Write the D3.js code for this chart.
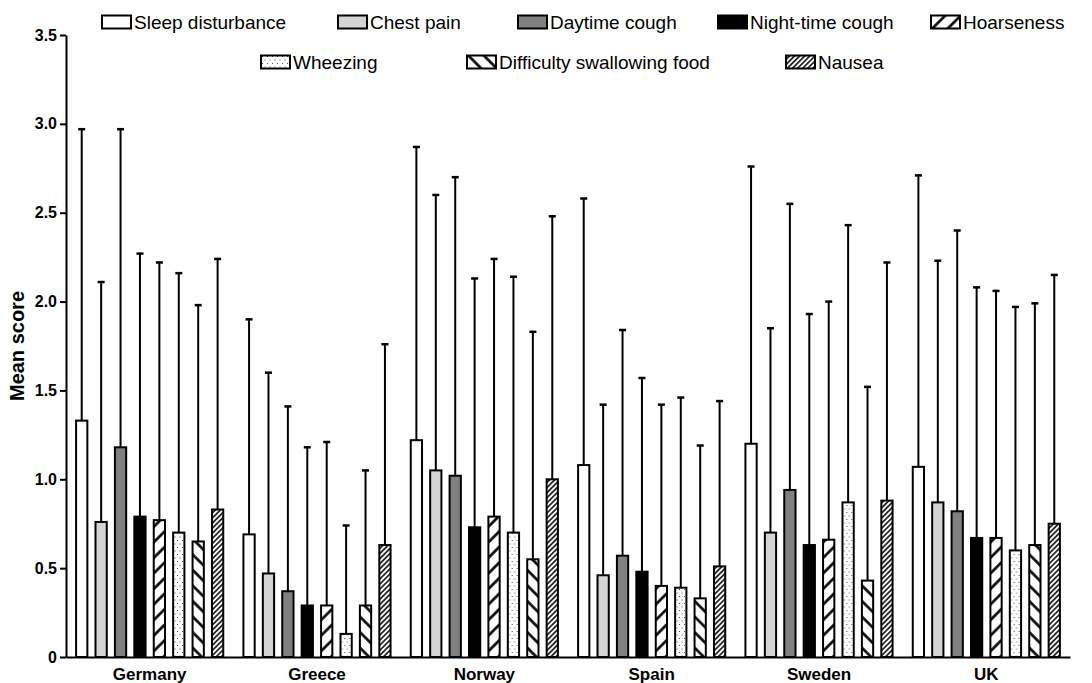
<!DOCTYPE html>
<html>
<head>
<meta charset="utf-8">
<script src="https://cdn.jsdelivr.net/npm/d3@7/dist/d3.min.js"></script>
<style>
  html, body { margin: 0; padding: 0; background: #fff; }
  svg { display: block; font-family: "Liberation Sans", Arial, Helvetica, sans-serif; }
</style>
</head>
<body>
<script>
// Countries along the x axis
const countries = ["Germany", "Greece", "Norway", "Spain", "Sweden", "UK"];

// Symptom series (legend order)
const symptoms = [
  "Sleep disturbance", "Chest pain", "Daytime cough", "Night-time cough",
  "Hoarseness", "Wheezing", "Difficulty swallowing food", "Nausea"
];

// Mean score per country for each symptom
const meanSleep      = [1.33, 0.69, 1.22, 1.08, 1.20, 1.07];
const meanChest      = [0.76, 0.47, 1.05, 0.46, 0.70, 0.87];
const meanDayCough   = [1.18, 0.37, 1.02, 0.57, 0.94, 0.82];
const meanNightCough = [0.79, 0.29, 0.73, 0.48, 0.63, 0.67];
const meanHoarse     = [0.77, 0.29, 0.79, 0.40, 0.66, 0.67];
const meanWheeze     = [0.70, 0.13, 0.70, 0.39, 0.87, 0.60];
const meanSwallow    = [0.65, 0.29, 0.55, 0.33, 0.43, 0.63];
const meanNausea     = [0.83, 0.63, 1.00, 0.51, 0.88, 0.75];

// Standard deviation per country for each symptom
const sdSleep      = [1.64, 1.21, 1.65, 1.50, 1.56, 1.64];
const sdChest      = [1.35, 1.13, 1.55, 0.96, 1.15, 1.36];
const sdDayCough   = [1.79, 1.04, 1.68, 1.27, 1.61, 1.58];
const sdNightCough = [1.48, 0.89, 1.40, 1.09, 1.30, 1.41];
const sdHoarse     = [1.45, 0.92, 1.45, 1.02, 1.34, 1.39];
const sdWheeze     = [1.46, 0.61, 1.44, 1.07, 1.56, 1.37];
const sdSwallow    = [1.33, 0.76, 1.28, 0.86, 1.09, 1.36];
const sdNausea     = [1.41, 1.13, 1.48, 0.93, 1.34, 1.40];

// Y axis tick values
const yTicks = [0, 0.5, 1.0, 1.5, 2.0, 2.5, 3.0, 3.5];

const means = [meanSleep, meanChest, meanDayCough, meanNightCough, meanHoarse, meanWheeze, meanSwallow, meanNausea];
const sds   = [sdSleep, sdChest, sdDayCough, sdNightCough, sdHoarse, sdWheeze, sdSwallow, sdNausea];

// Flattened records for drawing
const records = [];
countries.forEach((c, ci) => {
  symptoms.forEach((s, si) => {
    records.push({ country: c, symptom: s, mean: means[si][ci], sd: sds[si][ci] });
  });
});

const W = 1092, H = 683;
const plot = { left: 66, right: 1070, top: 35, bottom: 657 };

const svg = d3.select("body").append("svg")
  .attr("width", W).attr("height", H);

// ---- fill patterns ----
const defs = svg.append("defs");

function stripes(id, dir, size, width) {
  const p = defs.append("pattern")
    .attr("id", id)
    .attr("patternUnits", "userSpaceOnUse")
    .attr("width", size).attr("height", size)
    .attr("patternTransform", `rotate(${dir === "/" ? 45 : -45})`);
  p.append("rect").attr("width", size).attr("height", size).attr("fill", "#fff");
  p.append("line")
    .attr("x1", size / 2).attr("y1", 0)
    .attr("x2", size / 2).attr("y2", size)
    .attr("stroke", "#000").attr("stroke-width", width);
}
stripes("hoarse", "/", 11, 2.6);
stripes("swallow", "\\", 11, 2.6);
stripes("nausea", "/", 3.6, 1.5);

const dots = defs.append("pattern")
  .attr("id", "wheeze")
  .attr("patternUnits", "userSpaceOnUse")
  .attr("width", 5).attr("height", 7);
dots.append("rect").attr("width", 5).attr("height", 7).attr("fill", "#fff");
dots.append("rect").attr("x", 1).attr("y", 1).attr("width", 1).attr("height", 1).attr("fill", "#555");
dots.append("rect").attr("x", 3.5).attr("y", 4.5).attr("width", 1).attr("height", 1).attr("fill", "#555");

const fills = d3.scaleOrdinal()
  .domain(symptoms)
  .range(["#ffffff", "#d4d4d4", "#808080", "#000000",
          "url(#hoarse)", "url(#wheeze)", "url(#swallow)", "url(#nausea)"]);

// ---- scales ----
const x0 = d3.scaleBand().domain(countries).range([plot.left, plot.right]).padding(0);
const x1 = d3.scaleBand().domain(symptoms).range([0, x0.bandwidth()])
  .paddingInner(0.42).paddingOuter(0.52);
const y = d3.scaleLinear().domain([0, 3.5]).range([plot.bottom, plot.top]);

// ---- bars & error bars ----
const g = svg.append("g");

const groups = g.selectAll("g.country")
  .data(countries).join("g")
  .attr("class", "country")
  .attr("transform", d => `translate(${x0(d)},0)`);

const items = groups.selectAll("g.item")
  .data(c => records.filter(r => r.country === c))
  .join("g").attr("class", "item");

// error bar: vertical whisker from bar top to mean + SD, with a cap
items.append("line")
  .attr("x1", d => x1(d.symptom) + x1.bandwidth() / 2)
  .attr("x2", d => x1(d.symptom) + x1.bandwidth() / 2)
  .attr("y1", d => y(d.mean))
  .attr("y2", d => y(d.mean + d.sd))
  .attr("stroke", "#000").attr("stroke-width", 2);
items.append("line")
  .attr("x1", d => x1(d.symptom) + x1.bandwidth() / 2 - 3.5)
  .attr("x2", d => x1(d.symptom) + x1.bandwidth() / 2 + 3.5)
  .attr("y1", d => y(d.mean + d.sd))
  .attr("y2", d => y(d.mean + d.sd))
  .attr("stroke", "#000").attr("stroke-width", 2.5);

items.append("rect")
  .attr("x", d => x1(d.symptom))
  .attr("y", d => y(d.mean))
  .attr("width", x1.bandwidth())
  .attr("height", d => y(0) - y(d.mean))
  .attr("fill", d => fills(d.symptom))
  .attr("stroke", "#000").attr("stroke-width", 2);

// ---- axes ----
const yAxis = svg.append("g")
  .attr("transform", `translate(${plot.left},0)`)
  .call(d3.axisLeft(y).tickValues(yTicks).tickSize(6).tickSizeOuter(0).tickPadding(3)
    .tickFormat(d => d === 0 ? "0" : d3.format(".1f")(d)));
yAxis.selectAll("path, line").attr("stroke", "#000").attr("stroke-width", 2);
yAxis.selectAll("text")
  .attr("fill", "#000")
  .style("font-size", "16px").style("font-weight", "bold");

const xAxis = svg.append("g")
  .attr("transform", `translate(0,${plot.bottom})`)
  .call(d3.axisBottom(x0).tickSize(0).tickSizeOuter(0).tickPadding(11));
xAxis.select("path").attr("stroke", "#000").attr("stroke-width", 2);
xAxis.selectAll("text")
  .attr("fill", "#000")
  .style("font-size", "17px").style("font-weight", "bold");

// y axis title
svg.append("text")
  .attr("transform", `translate(24,${(plot.top + plot.bottom) / 2}) rotate(-90)`)
  .attr("text-anchor", "middle")
  .style("font-size", "20px").style("font-weight", "bold")
  .text("Mean score");

// ---- legend ----
const legendSlots = [
  [102, 22], [338, 22], [518, 22], [718, 22], [931, 22],
  [261, 62], [467, 62], [786, 62]
];
const legend = svg.append("g");
symptoms.forEach((s, i) => {
  const [lx, ly] = legendSlots[i];
  const item = legend.append("g").attr("transform", `translate(${lx},${ly})`);
  item.append("rect")
    .attr("x", 0).attr("y", -6.5)
    .attr("width", 29).attr("height", 13)
    .attr("fill", fills(s))
    .attr("stroke", "#000").attr("stroke-width", 2);
  item.append("text")
    .attr("x", 32).attr("y", 0)
    .attr("dominant-baseline", "central")
    .style("font-size", "19px")
    .text(s);
});
</script>
</body>
</html>
